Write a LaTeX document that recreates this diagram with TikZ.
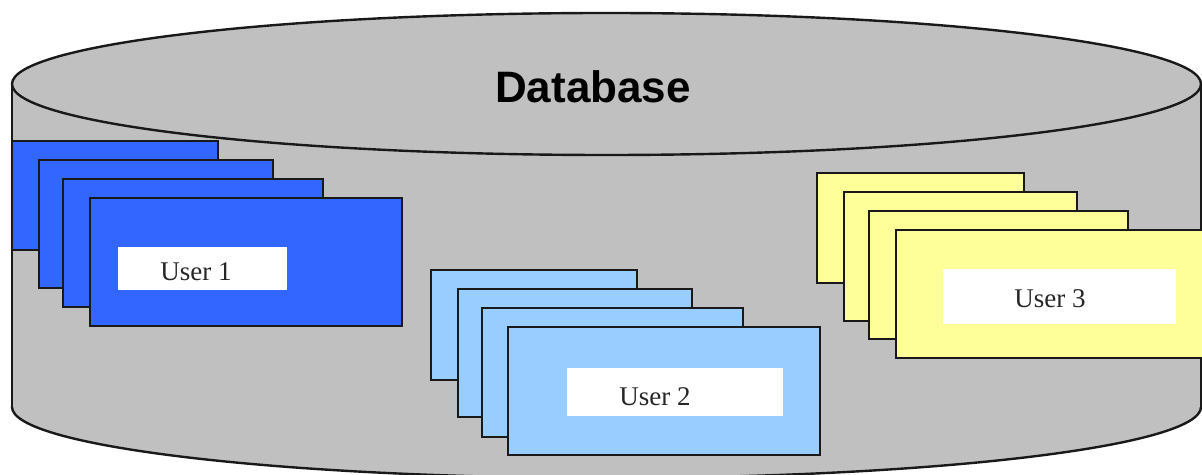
\documentclass[tikz,border=0pt]{standalone}
\usepackage{fontspec}
\setmainfont{Liberation Serif}
\newfontfamily\headfont{Liberation Sans}
\definecolor{dbgrey}{HTML}{C0C0C0}
\definecolor{uone}{HTML}{3366FF}
\definecolor{utwo}{HTML}{99CCFF}
\definecolor{uthree}{HTML}{FFFF99}
\begin{document}
\begin{tikzpicture}[x=0.5pt,y=-0.5pt,
  outline/.style={draw=black!90, line width=1.2pt},
  card/.style={draw=black!90, line width=1.2pt},
  tag/.style={fill=white, draw=none},
  usertext/.style={font=\fontsize{13.5}{15}\selectfont, text=black!85, inner sep=0pt},
  dbtext/.style={font=\headfont\bfseries\fontsize{22}{24}\selectfont, inner sep=0pt, anchor=base}]
\useasboundingbox (0,0) rectangle (1202,475);
\clip (0,0) rectangle (1202,475);

% cylinder: bottom rim, body, top face
\filldraw[outline, fill=dbgrey] (606.5,407) ellipse [x radius=594.5, y radius=71];
\fill[dbgrey] (12,84) rectangle (1201,407);
\draw[outline] (12,84) -- (12,407);
\draw[outline] (1201,84) -- (1201,407);
\filldraw[outline, fill=dbgrey] (606.5,84) ellipse [x radius=594.5, y radius=71];
\node[dbtext] (db) at (593,103) {Database};

% user 1 stack
\filldraw[card, fill=uone] (12,141) rectangle (218,250);
\filldraw[card, fill=uone] (39,160) rectangle (273,288);
\filldraw[card, fill=uone] (63,179) rectangle (323,307);
\filldraw[card, fill=uone] (90,198) rectangle (402,326);
\fill[tag] (118,247) rectangle (287,290);
\node[usertext] (u1) at (196,272) {User 1};

% user 2 stack
\filldraw[card, fill=utwo] (431,270) rectangle (637,380);
\filldraw[card, fill=utwo] (458,289) rectangle (692,417);
\filldraw[card, fill=utwo] (482,308) rectangle (743,437);
\filldraw[card, fill=utwo] (508,327) rectangle (820,455);
\fill[tag] (567,368) rectangle (783,416);
\node[usertext] (u2) at (655,397) {User 2};

% user 3 stack
\filldraw[card, fill=uthree] (817,173) rectangle (1024,283);
\filldraw[card, fill=uthree] (844,192) rectangle (1077,321);
\filldraw[card, fill=uthree] (869,211) rectangle (1128,339);
\filldraw[card, fill=uthree] (896,230) rectangle (1208,358);
\fill[tag] (943,269) rectangle (1176,324);
\node[usertext] (u3) at (1050,299) {User 3};
\end{tikzpicture}
\end{document}
